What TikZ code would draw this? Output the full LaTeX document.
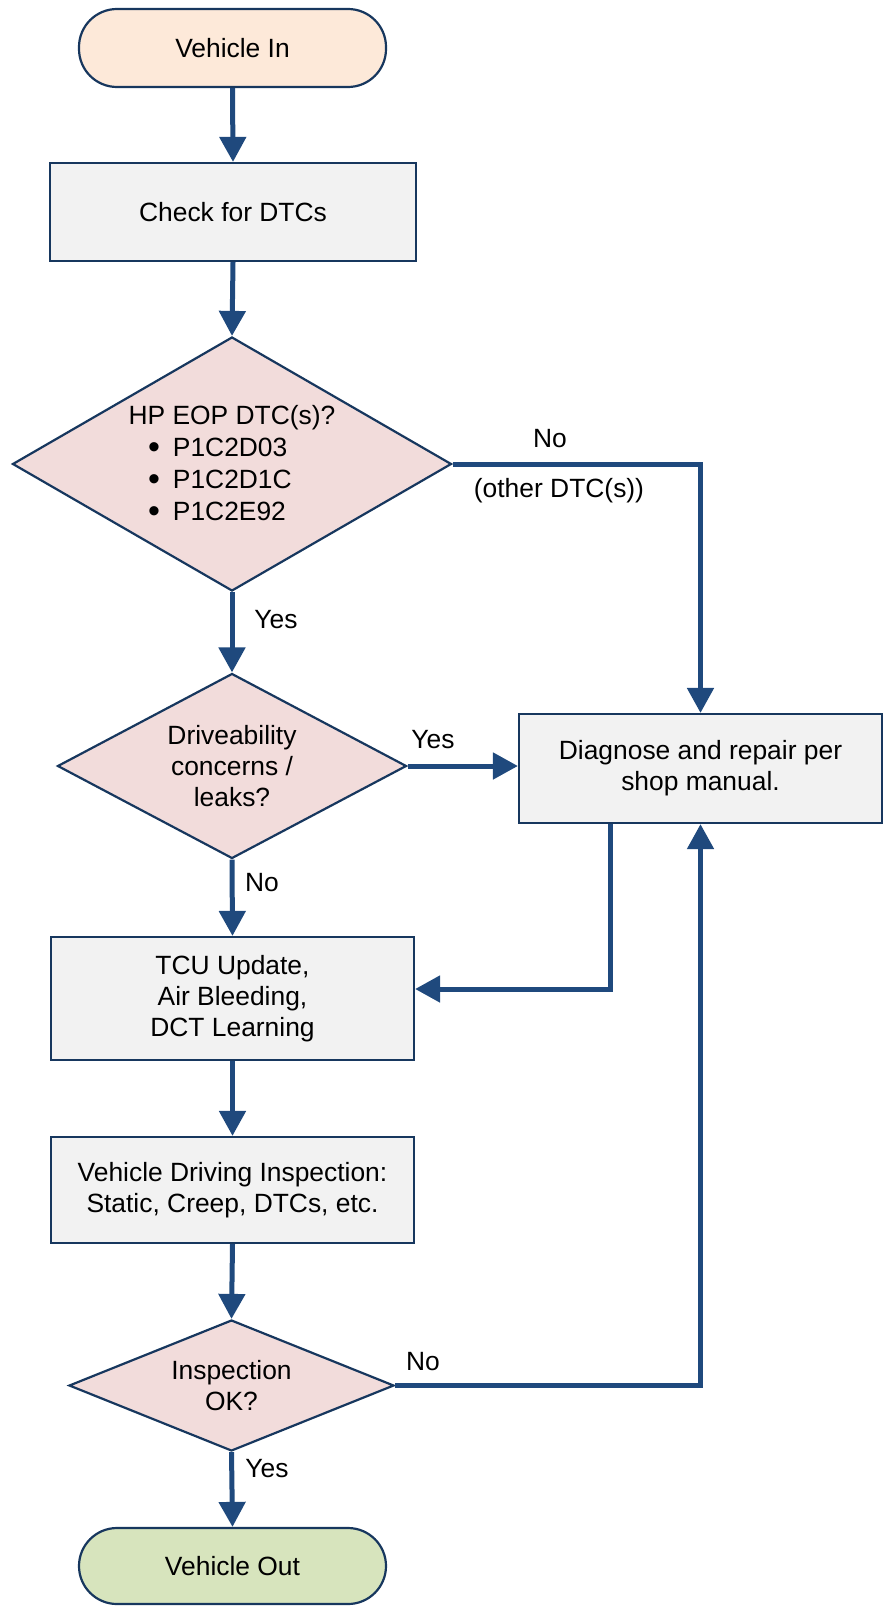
\documentclass[tikz,border=0pt]{standalone}
\usepackage{fontspec}
\setmainfont{Liberation Sans}
\usetikzlibrary{arrows.meta,shapes.geometric}
\definecolor{arrowblue}{RGB}{31,73,125}
\definecolor{nodeborder}{RGB}{23,55,94}
\definecolor{startfill}{RGB}{253,233,217}
\definecolor{endfill}{RGB}{215,228,189}
\definecolor{decfill}{RGB}{242,220,219}
\definecolor{boxfill}{RGB}{242,242,242}
\newcommand{\bigbul}{\raisebox{-1pt}{\fontsize{17}{15.5}\selectfont\textbullet}}
\tikzset{
  base/.style={draw=nodeborder, line width=1.1pt, align=center, inner sep=0pt,
    font=\fontsize{13.2}{15.5}\selectfont},
  terminal/.style={base, rectangle, rounded corners=19pt, fill=#1},
  procbox/.style={base, rectangle, fill=boxfill},
  decision/.style={base, diamond, fill=decfill},
  flow/.style={draw=arrowblue, line width=2.5pt, line join=miter,
    -{Triangle[length=12.5pt,width=13pt]}},
  lbl/.style={inner sep=0pt, font=\fontsize{13.2}{15.5}\selectfont}
}
\begin{document}
\begin{tikzpicture}[x=0.5pt,y=-0.5pt]
\useasboundingbox (0,0) rectangle (884,1606);

\node[terminal=startfill, minimum width=153.5pt, minimum height=39pt] (vin) at (232.5,48) {Vehicle In};
\node[procbox, minimum width=183pt, minimum height=49pt] (chk) at (233,212) {Check for DTCs};
\node[decision, minimum width=219.5pt, minimum height=127pt, aspect=1.73,
      font=\fontsize{13.2}{16}\selectfont] (d1) at (232,464)
  {HP EOP DTC(s)?\\
   \makebox[84pt][l]{\bigbul\hspace{6.5pt}P1C2D03}\\
   \makebox[84pt][l]{\bigbul\hspace{6.5pt}P1C2D1C}\\
   \makebox[84pt][l]{\bigbul\hspace{6.5pt}P1C2E92}};
\node[decision, minimum width=174.5pt, minimum height=92.5pt, aspect=1.89] (d2) at (232,766)
  {Driveability\\concerns /\\leaks?};
\node[procbox, minimum width=181.5pt, minimum height=54.5pt] (diag) at (700.5,768.5)
  {Diagnose and repair per\\shop manual.};
\node[procbox, minimum width=181.5pt, minimum height=61.5pt] (tcu) at (232.5,998.5)
  {TCU Update,\\Air Bleeding,\\DCT Learning};
\node[procbox, minimum width=181.5pt, minimum height=53pt] (vdi) at (232.5,1190)
  {Vehicle Driving Inspection:\\Static, Creep, DTCs, etc.};
\node[decision, minimum width=162.5pt, minimum height=65.5pt, aspect=2.48] (d3) at (231.5,1385.5)
  {Inspection\\OK?};
\node[terminal=endfill, minimum width=153.5pt, minimum height=38pt] (vout) at (232.5,1566) {Vehicle Out};

\draw[flow] (vin.south) -- (chk.north);
\draw[flow] (chk.south) -- (d1.north);
\draw[flow] (d1.south) -- (d2.north);
\draw[flow] (d1.east) -| (diag.north);
\draw[flow] (d2.east) -- (d2.east -| diag.west);
\draw[flow] (d2.south) -- (tcu.north);
\draw[flow] ([xshift=-45.25pt]diag.south) |- ([yshift=4.75pt]tcu.east);
\draw[flow] (tcu.south) -- (vdi.north);
\draw[flow] (vdi.south) -- (d3.north);
\draw[flow] (d3.east) -| (diag.south);
\draw[flow] (d3.south) -- (vout.north);

\node[lbl] (l1) at (550,439) {No};
\node[lbl] (l2) at (559,491) {(other DTC(s))};
\node[lbl] (l3) at (276,620) {Yes};
\node[lbl] (l4) at (433,740) {Yes};
\node[lbl] (l5) at (262,883) {No};
\node[lbl] (l6) at (423,1362) {No};
\node[lbl] (l7) at (267,1469) {Yes};
\end{tikzpicture}
\end{document}
